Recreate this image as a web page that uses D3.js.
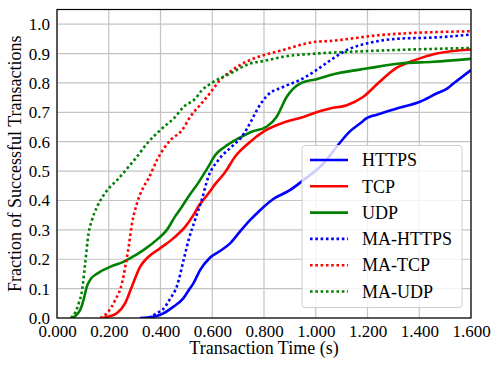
<!DOCTYPE html>
<html><head><meta charset="utf-8">
<script src="https://cdn.jsdelivr.net/npm/d3@7"></script>
<style>body{margin:0;background:#fff;}svg{display:block;font-family:"Liberation Serif","Times New Roman",serif;}</style>
</head><body>
<svg id="c" width="499" height="369"></svg>
<script>
const seriesNames = ["HTTPS","TCP","UDP","MA-HTTPS","MA-TCP","MA-UDP"];
const seriesColors = ["#0000ff","#ff0000","#008000","#0000ff","#ff0000","#008000"];
const seriesDotted = [false,false,false,true,true,true];
const xTicks = [0,0.2,0.4,0.6,0.8,1.0,1.2,1.4,1.6];
const yTicks = [0,0.1,0.2,0.3,0.4,0.5,0.6,0.7,0.8,0.9,1.0];

const https = [[0.321,0],[0.372,0.004],[0.411,0.016],[0.449,0.038],[0.488,0.067],[0.514,0.101],[0.527,0.118],[0.553,0.163],[0.591,0.205],[0.63,0.228],[0.669,0.254],[0.707,0.294],[0.746,0.333],[0.785,0.367],[0.836,0.405],[0.9,0.435],[0.952,0.469],[1.03,0.526],[1.081,0.583],[1.132,0.635],[1.171,0.662],[1.197,0.68],[1.236,0.692],[1.313,0.713],[1.403,0.736],[1.467,0.764],[1.506,0.78],[1.532,0.798],[1.6,0.844]];
const tcp = [[0.175,0],[0.2,0.005],[0.231,0.016],[0.263,0.05],[0.289,0.106],[0.321,0.174],[0.353,0.208],[0.398,0.237],[0.449,0.271],[0.495,0.31],[0.527,0.35],[0.546,0.379],[0.585,0.424],[0.615,0.46],[0.649,0.495],[0.688,0.549],[0.739,0.594],[0.801,0.636],[0.875,0.665],[0.939,0.681],[1.003,0.7],[1.055,0.713],[1.12,0.724],[1.184,0.753],[1.248,0.805],[1.313,0.852],[1.377,0.876],[1.467,0.9],[1.6,0.914]];
const udp = [[0.057,0],[0.075,0.01],[0.088,0.025],[0.097,0.045],[0.105,0.07],[0.115,0.106],[0.125,0.125],[0.134,0.137],[0.15,0.148],[0.166,0.157],[0.205,0.174],[0.256,0.191],[0.282,0.203],[0.334,0.231],[0.392,0.271],[0.424,0.299],[0.456,0.345],[0.48,0.375],[0.507,0.412],[0.546,0.46],[0.585,0.515],[0.611,0.554],[0.649,0.583],[0.701,0.611],[0.752,0.634],[0.81,0.651],[0.849,0.685],[0.888,0.753],[0.939,0.798],[1.003,0.813],[1.081,0.832],[1.197,0.849],[1.326,0.866],[1.454,0.872],[1.6,0.882]];
const maHttps = [[0.355,0],[0.385,0.016],[0.41,0.03],[0.437,0.065],[0.464,0.11],[0.49,0.2],[0.51,0.27],[0.533,0.333],[0.559,0.401],[0.585,0.481],[0.623,0.537],[0.675,0.583],[0.714,0.617],[0.752,0.673],[0.772,0.707],[0.81,0.755],[0.875,0.787],[0.939,0.81],[1.003,0.844],[1.048,0.872],[1.12,0.912],[1.21,0.937],[1.326,0.951],[1.467,0.955],[1.6,0.965]];
const maTcp = [[0.167,0],[0.193,0.016],[0.225,0.061],[0.251,0.118],[0.264,0.175],[0.277,0.243],[0.29,0.322],[0.309,0.39],[0.335,0.447],[0.354,0.475],[0.386,0.537],[0.438,0.605],[0.483,0.639],[0.515,0.685],[0.553,0.725],[0.591,0.765],[0.63,0.81],[0.669,0.838],[0.707,0.861],[0.746,0.878],[0.873,0.912],[1.0,0.94],[1.055,0.943],[1.248,0.963],[1.6,0.976]];
const maUdp = [[0.054,0],[0.071,0.02],[0.084,0.05],[0.097,0.095],[0.109,0.186],[0.122,0.288],[0.135,0.333],[0.155,0.379],[0.18,0.418],[0.206,0.447],[0.232,0.469],[0.277,0.515],[0.309,0.549],[0.348,0.594],[0.406,0.645],[0.451,0.679],[0.49,0.719],[0.535,0.747],[0.56,0.775],[0.598,0.80],[0.669,0.832],[0.746,0.866],[0.80,0.875],[0.873,0.889],[1.0,0.9],[1.184,0.908],[1.377,0.914],[1.6,0.919]];
const seriesData = [https, tcp, udp, maHttps, maTcp, maUdp];

const svg = d3.select("#c");
const L = 57, R = 471, T = 9.5, B = 318;
const x = d3.scaleLinear().domain([0,1.6]).range([L,R]);
const y = d3.scaleLinear().domain([0,1.05]).range([B,T]);

// grid
const g = svg.append("g");
g.selectAll(".gx").data(xTicks).enter().append("line")
  .attr("x1",d=>x(d)).attr("x2",d=>x(d)).attr("y1",T).attr("y2",B)
  .attr("stroke","#c4c4c4").attr("stroke-width",1.2);
g.selectAll(".gy").data(yTicks).enter().append("line")
  .attr("x1",L).attr("x2",R).attr("y1",d=>y(d)).attr("y2",d=>y(d))
  .attr("stroke","#c4c4c4").attr("stroke-width",1.2);

// lines
const line = d3.line().x(d=>x(d[0])).y(d=>y(d[1])).curve(d3.curveMonotoneX);
svg.append("clipPath").attr("id","cp").append("rect").attr("x",L).attr("y",T).attr("width",R-L).attr("height",B-T);
const lg = svg.append("g").attr("clip-path","url(#cp)");
seriesData.forEach((d,i)=>{
  lg.append("path").datum(d).attr("d",line).attr("fill","none")
    .attr("stroke",seriesColors[i]).attr("stroke-width",2.6)
    .attr("stroke-dasharray",seriesDotted[i]?"2.6,2.7":null);
});

// axes
const xAxis = d3.axisBottom(x).tickValues(xTicks).tickFormat(d3.format(".3f")).tickSize(0).tickPadding(7);
const yAxis = d3.axisLeft(y).tickValues(yTicks).tickFormat(d3.format(".1f")).tickSize(0).tickPadding(7);
const ax = svg.append("g").attr("transform",`translate(0,${B})`).call(xAxis);
const ay = svg.append("g").attr("transform",`translate(${L},0)`).call(yAxis);
[ax,ay].forEach(a=>{a.attr("font-family",null).attr("font-size",null);a.select(".domain").remove();a.selectAll("text").attr("font-size","17px").attr("fill","#000");});

svg.append("rect").attr("x",L).attr("y",T).attr("width",R-L).attr("height",B-T)
  .attr("fill","none").attr("stroke","#000").attr("stroke-width",1.2);

svg.append("text").attr("x",(L+R)/2).attr("y",354).attr("text-anchor","middle")
  .attr("font-size","18px").text("Transaction Time (s)");
svg.append("text").attr("transform",`translate(21,${(T+B)/2}) rotate(-90)`).attr("text-anchor","middle")
  .attr("font-size","18px").text("Fraction of Successful Transactions");

// legend
const leg = svg.append("g");
leg.append("rect").attr("x",302).attr("y",145.5).attr("width",160).attr("height",162).attr("rx",3)
  .attr("fill","rgba(255,255,255,0.8)").attr("stroke","#d0d0d0").attr("stroke-width",1);
seriesNames.forEach((n,i)=>{
  const cy = 160 + i*26.3;
  leg.append("line").attr("x1",310).attr("x2",348).attr("y1",cy).attr("y2",cy)
    .attr("stroke",seriesColors[i]).attr("stroke-width",2.6)
    .attr("stroke-dasharray",seriesDotted[i]?"2.6,2.7":null);
  leg.append("text").attr("x",362).attr("y",cy+6.2).attr("font-size","18px").text(n);
});
</script>
</body></html>
